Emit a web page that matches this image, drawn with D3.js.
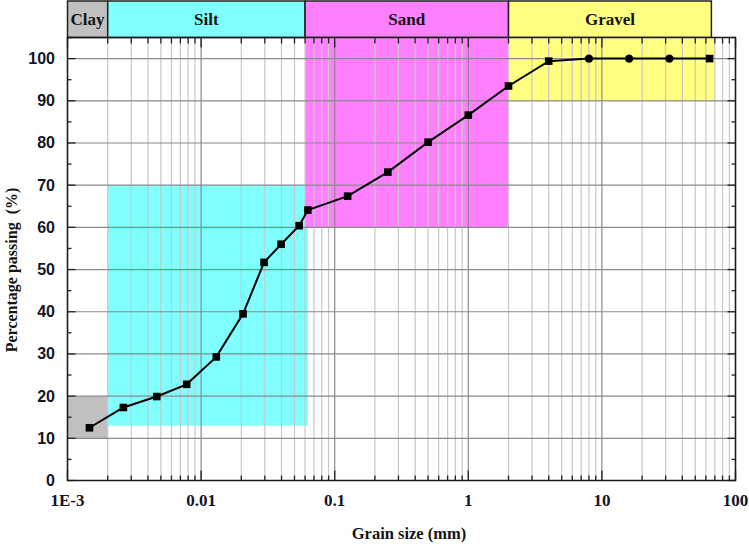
<!DOCTYPE html>
<html>
<head>
<meta charset="utf-8">
<script src="https://cdn.jsdelivr.net/npm/d3@7/dist/d3.min.js"></script>
<style>
  html, body { margin: 0; padding: 0; background: #fff; }
  svg { display: block; }
</style>
</head>
<body>
<svg id="chart" width="749" height="544"></svg>
<script>
// ---- data ----
const grainSize = [0.00146, 0.00262, 0.00466, 0.0078, 0.0130, 0.0206, 0.0296, 0.0397, 0.0542, 0.063,
                   0.125, 0.25, 0.5, 1, 2, 4, 8, 16, 32, 64];
const passing   = [12.5, 17.3, 19.9, 22.8, 29.3, 39.5, 51.7, 56.0, 60.4, 64.1,
                   67.4, 73.1, 80.2, 86.6, 93.5, 99.4, 100, 100, 100, 100];
const markerShape = ["s","s","s","s","s","s","s","s","s","s","s","s","s","s","s","s","c","c","c","s"];

const bandNames  = ["Clay", "Silt", "Sand", "Gravel"];
const bandColors = ["#c0c0c0", "#80ffff", "#ff80ff", "#ffff80"];
const headerFrom = [0.001, 0.002, 0.06, 2];
const headerTo   = [0.002, 0.06, 2, 66];
const bandFrom   = [0.001, 0.002, 0.06, 2];
const bandTo     = [0.002, 0.063, 2, 70];
const bandLow    = [10, 13, 60, 90];
const bandHigh   = [20, 70, 105, 105];

const xTickValues = [0.001, 0.01, 0.1, 1, 10, 100];
const xTickLabels = ["1E-3", "0.01", "0.1", "1", "10", "100"];
const yTickValues = [0, 10, 20, 30, 40, 50, 60, 70, 80, 90, 100];

// ---- layout ----
const svg = d3.select("#chart");
const L = 67.5, R = 735.5, T = 37.5, B = 480.5;
const x = d3.scaleLog().domain([0.001, 100]).range([L, R]);
const y = d3.scaleLinear().domain([0, 105]).range([B, T]);

// minor/major log positions
const logTicks = [];
for (let e = -3; e <= 1; e++) {
  for (let m = 1; m <= 9; m++) logTicks.push({v: m * Math.pow(10, e), major: m === 1});
}
logTicks.push({v: 100, major: true});

// ---- header boxes ----
const hdr = svg.append("g");
bandNames.forEach((n, i) => {
  const x0 = x(headerFrom[i]), x1 = x(headerTo[i]);
  hdr.append("rect").attr("x", x0).attr("y", 1).attr("width", x1 - x0).attr("height", T - 1)
    .attr("fill", bandColors[i]).attr("stroke", "#222").attr("stroke-width", 1.5);
  hdr.append("text").attr("x", (x0 + x1) / 2).attr("y", 19.5)
    .attr("text-anchor", "middle").attr("dominant-baseline", "central")
    .attr("font-family", "'Liberation Serif', 'Times New Roman', serif")
    .attr("font-weight", "bold").attr("font-size", 17).attr("fill", "#141414")
    .text(n);
});

// ---- band regions ----
const reg = svg.append("g");
bandNames.forEach((n, i) => {
  reg.append("rect")
    .attr("x", x(bandFrom[i])).attr("y", y(bandHigh[i]))
    .attr("width", x(bandTo[i]) - x(bandFrom[i]))
    .attr("height", y(bandLow[i]) - y(bandHigh[i]))
    .attr("fill", bandColors[i]);
});

// ---- gridlines ----
const grid = svg.append("g");
logTicks.forEach(t => {
  grid.append("line").attr("x1", x(t.v)).attr("x2", x(t.v)).attr("y1", T).attr("y2", B)
    .attr("stroke", t.major ? "#8a8a8a" : "#c8c8c8").attr("stroke-width", 1.2);
});
yTickValues.forEach(v => {
  grid.append("line").attr("x1", L).attr("x2", R).attr("y1", y(v)).attr("y2", y(v))
    .attr("stroke", "#8a8a8a").attr("stroke-width", 1.2);
});

// ---- ticks (inward on all sides) ----
const ticks = svg.append("g").attr("stroke", "#222").attr("stroke-width", 1.3);
logTicks.forEach(t => {
  const len = t.major ? 10 : 5;
  ticks.append("line").attr("x1", x(t.v)).attr("x2", x(t.v)).attr("y1", B).attr("y2", B - len);
  ticks.append("line").attr("x1", x(t.v)).attr("x2", x(t.v)).attr("y1", T).attr("y2", T + (t.major ? 10 : 6));
});
d3.range(0, 106, 5).forEach(v => {
  const len = v % 10 === 0 ? 8 : 4;
  ticks.append("line").attr("x1", L).attr("x2", L + len).attr("y1", y(v)).attr("y2", y(v));
  ticks.append("line").attr("x1", R).attr("x2", R - len).attr("y1", y(v)).attr("y2", y(v));
});

// frame
svg.append("rect").attr("x", L).attr("y", T).attr("width", R - L).attr("height", B - T)
  .attr("fill", "none").attr("stroke", "#1a1a1a").attr("stroke-width", 1.5);

// ---- axis labels ----
const xl = svg.append("g");
xTickValues.forEach((v, i) => {
  xl.append("text").attr("x", x(v)).attr("y", 500).attr("text-anchor", "middle")
    .attr("dominant-baseline", "central")
    .attr("font-family", "'Liberation Serif', 'Times New Roman', serif")
    .attr("font-weight", "bold").attr("font-size", 17).attr("fill", "#141428")
    .text(xTickLabels[i]);
});
const yl = svg.append("g");
yTickValues.forEach(v => {
  yl.append("text").attr("x", 55).attr("y", y(v)).attr("text-anchor", "end")
    .attr("dominant-baseline", "central")
    .attr("font-family", "'Liberation Sans', Arial, sans-serif")
    .attr("font-weight", "bold").attr("font-size", 16).attr("fill", "#141428")
    .text(v);
});

svg.append("text").attr("x", 409).attr("y", 533).attr("text-anchor", "middle")
  .attr("dominant-baseline", "central")
  .attr("font-family", "'Liberation Serif', 'Times New Roman', serif")
  .attr("font-weight", "bold").attr("font-size", 16.5).attr("fill", "#141414")
  .text("Grain size (mm)");
svg.append("text").attr("transform", "translate(11,270) rotate(-90)").attr("text-anchor", "middle")
  .attr("dominant-baseline", "central")
  .attr("font-family", "'Liberation Serif', 'Times New Roman', serif")
  .attr("font-weight", "bold").attr("font-size", 16).attr("fill", "#141414")
  .attr("xml:space", "preserve")
  .text("Percentage passing  (%)");

// ---- data line and markers ----
const pts = grainSize.map((g, i) => ({g, p: passing[i], s: markerShape[i]}));
svg.append("path").datum(pts)
  .attr("d", d3.line().x(d => x(d.g)).y(d => y(d.p)))
  .attr("fill", "none").attr("stroke", "#000").attr("stroke-width", 2);
const mk = svg.append("g");
pts.forEach(d => {
  if (d.s === "c") {
    mk.append("circle").attr("cx", x(d.g)).attr("cy", y(d.p)).attr("r", 4.2).attr("fill", "#000");
  } else {
    mk.append("rect").attr("x", x(d.g) - 3.8).attr("y", y(d.p) - 3.8).attr("width", 7.6).attr("height", 7.6).attr("fill", "#000");
  }
});
</script>
</body>
</html>
